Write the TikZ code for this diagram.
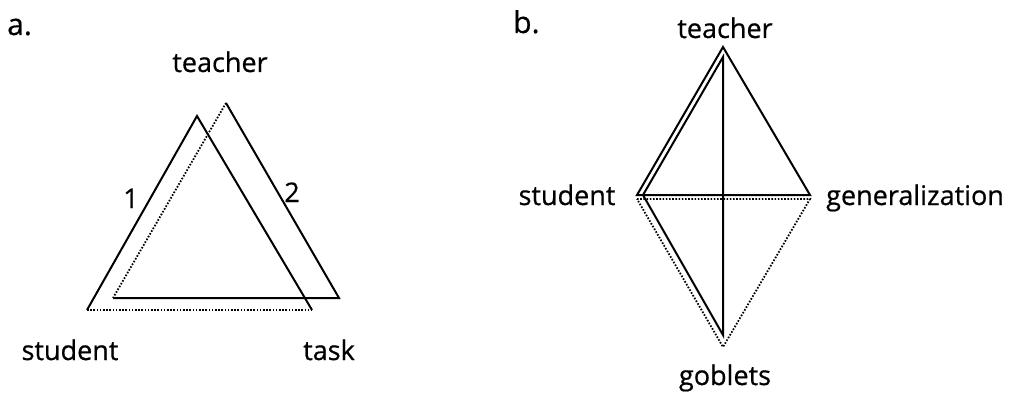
\documentclass[tikz,border=0pt]{standalone}
\usepackage{fontspec}
\setmainfont{Open Sans}[FakeBold=0.6]
\begin{document}
\begin{tikzpicture}[
    x=1pt,y=-1pt,
    every node/.style={font=\fontsize{27}{30}\selectfont,inner sep=0pt},
    big/.style={font=\fontsize{30}{34}\selectfont},
    edge/.style={line width=2pt,line join=miter},
    dots/.style={line width=1.8pt,dash pattern=on 1.6pt off 1.6pt}]
    \useasboundingbox (0,0) rectangle (1014,393);
    % a. two shifted triangles
    \coordinate (tA) at (197,116);
    \coordinate (sA) at (87,310);
    \coordinate (kA) at (312,310);
    \coordinate (tB) at (226,103);
    \coordinate (sB) at (113,298);
    \coordinate (kB) at (339,298);
    \draw[edge] (sA) -- (tA) -- (kA);
    \draw[dots] (sA) -- (kA);
    \draw[edge] (sB) -- (kB) -- (tB);
    \draw[dots] (tB) -- (sB);
    \node[big,anchor=base west] (lblA) at (7,35) {a.};
    \node[anchor=base] (teachA) at (220,72) {teacher};
    \node[anchor=base] (studA) at (70,360) {student};
    \node[anchor=base] (taskA) at (329,360) {task};
    \node[anchor=base] (one) at (131,208) {1};
    \node[anchor=base] (two) at (292,202) {2};
    % b. teacher/student/generalization/goblets
    \coordinate (tT) at (723,47);
    \coordinate (tS) at (637,195);
    \coordinate (tG) at (810,195);
    \coordinate (uT) at (723,57);
    \coordinate (uS) at (643,195);
    \coordinate (uB) at (723,335);
    \coordinate (dS) at (637,199);
    \coordinate (dG) at (810,199);
    \coordinate (dB) at (723,347);
    \draw[edge] (tT) -- (tS) -- (tG) -- cycle;
    \draw[edge] (uT) -- (uS) -- (uB) -- cycle;
    \draw[dots] (dS) -- (dG) -- (dB) -- cycle;
    \node[big,anchor=base west] (lblB) at (513,33) {b.};
    \node[anchor=base] (teachB) at (725,38) {teacher};
    \node[anchor=base] (studB) at (567,205) {student};
    \node[anchor=base west] (genB) at (826,205) {generalization};
    \node[anchor=base] (gobB) at (725,385) {goblets};
\end{tikzpicture}
\end{document}
